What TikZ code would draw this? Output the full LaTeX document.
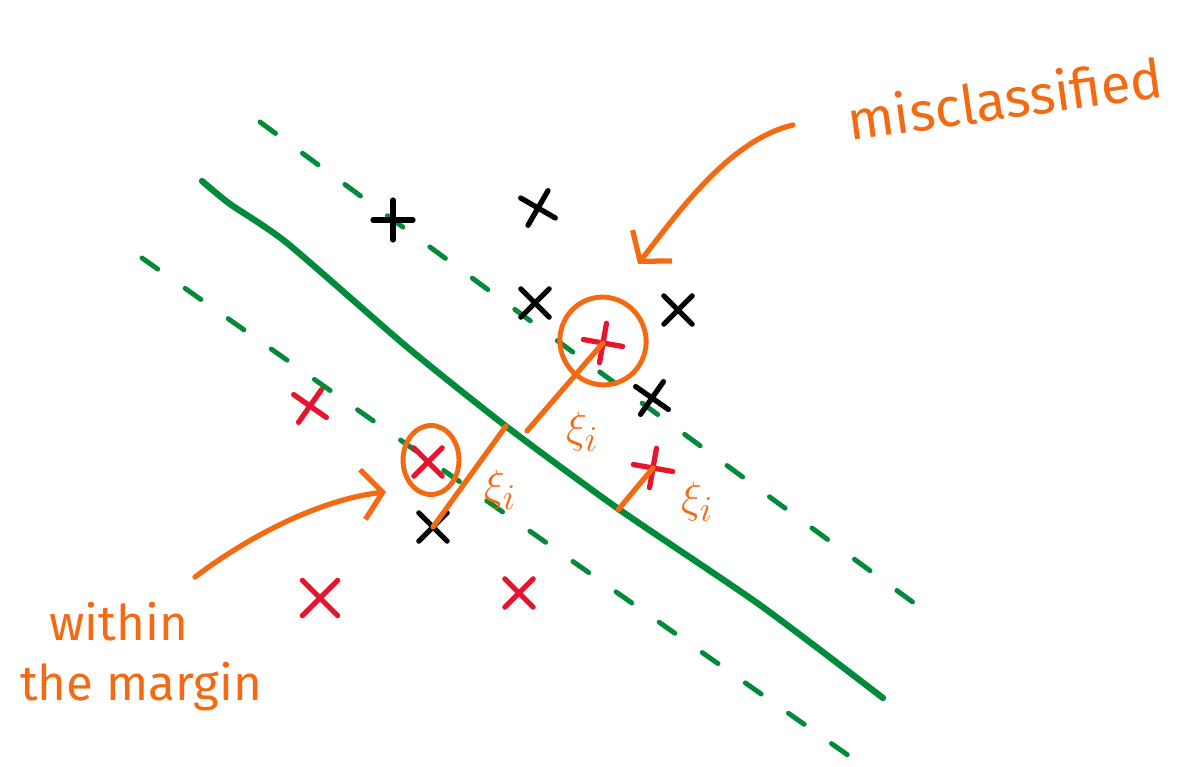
\documentclass[tikz,border=0pt]{standalone}
\usepackage{fontspec}
\setmainfont{Fira Sans}
\usetikzlibrary{arrows.meta, shapes.misc, shapes.geometric}
\definecolor{svmgreen}{HTML}{008A3A}
\definecolor{penorange}{HTML}{F46A12}
\definecolor{penred}{HTML}{E6142D}

\begin{document}
\begin{tikzpicture}[x=0.02cm, y=-0.02cm, line cap=round, line join=round,
    boundary/.style={svmgreen, line width=3.6pt},
    marginline/.style={svmgreen, line width=2.8pt, dash pattern=on 11pt off 19pt},
    plusmark/.style={cross out, draw=black, line width=3pt, minimum size=0.46cm, inner sep=0pt},
    minusmark/.style={cross out, draw=penred, line width=3pt, minimum size=0.46cm, inner sep=0pt},
    ring/.style={ellipse, draw=penorange, line width=2.8pt, inner sep=0pt},
    slack/.style={penorange, line width=3pt},
    xilabel/.style={penorange, font=\fontsize{30}{34}\selectfont},
    note/.style={penorange, font=\fontsize{31}{36}\selectfont},
    pointer/.style={penorange, line width=3pt, -{Straight Barb[length=4mm, width=10mm]}}]
  \useasboundingbox (0,0) rectangle (1177,767);

  % separating line and the two margins
  \draw[boundary] plot[smooth, tension=0.4] coordinates
    {(202,181) (230,204) (287,243) (407,347) (507,427) (620,510) (760,605) (883,698)};
  \coordinate (up0) at (260,122);
  \coordinate (up1) at (918,606);
  \coordinate (lo0) at (142,258);
  \coordinate (lo1) at (852,758);
  \draw[marginline] (up0) -- (up1);
  \draw[marginline] (lo0) -- (lo1);

  % positive points
  \node[plusmark, rotate=45] (p1) at (393,220) {};
  \node[plusmark, rotate=15] (p2) at (538,208) {};
  \node[plusmark] (p3) at (535,303) {};
  \node[plusmark] (p4) at (678,310) {};
  \node[plusmark, rotate=10] (p5) at (652,398) {};
  \node[plusmark] (p6) at (433,527) {};

  % negative points
  \node[minusmark, rotate=10] (n1) at (310,406) {};
  \node[minusmark] (n2) at (428,462) {};
  \node[minusmark, rotate=35] (n3) at (603,343) {};
  \node[minusmark, rotate=35] (n4) at (653,468) {};
  \node[minusmark, minimum size=0.6cm] (n5) at (320,598) {};
  \node[minusmark] (n6) at (519,593) {};

  % circled points
  \node[ring, minimum width=1.72cm, minimum height=1.76cm, rotate=20] (c1) at (603,341) {};
  \node[ring, minimum width=1.12cm, minimum height=1.38cm] (c2) at (431,460) {};

  % slack distances
  \coordinate (f1) at (527,431);
  \coordinate (f2) at (506,426);
  \coordinate (f3) at (618,510);
  \draw[slack] (f1) -- (n3.center);
  \draw[slack] (f2) -- (p6.center);
  \draw[slack] (f3) -- (n4.center);
  \node[xilabel] (x1) at (582,432) {$\xi_i$};
  \node[xilabel] (x2) at (500,490) {$\xi_i$};
  \node[xilabel] (x3) at (697,502) {$\xi_i$};

  % notes
  \node[note, rotate=8] (mis) at (1005,98) {misclassified};
  \node[note, font=\fontsize{28}{34}\selectfont, align=left, anchor=north west] (wtm) at (14,596) {\hspace{0.6em}within\\the margin};
  \coordinate (a1) at (793,125);
  \coordinate (a2) at (638,264);
  \coordinate (b1) at (195,577);
  \coordinate (b2) at (386,492);
  \draw[pointer] (a1) .. controls (730,140) and (680,210) .. (a2);
  \draw[pointer] (b1) .. controls (260,528) and (330,498) .. (b2);
\end{tikzpicture}
\end{document}
